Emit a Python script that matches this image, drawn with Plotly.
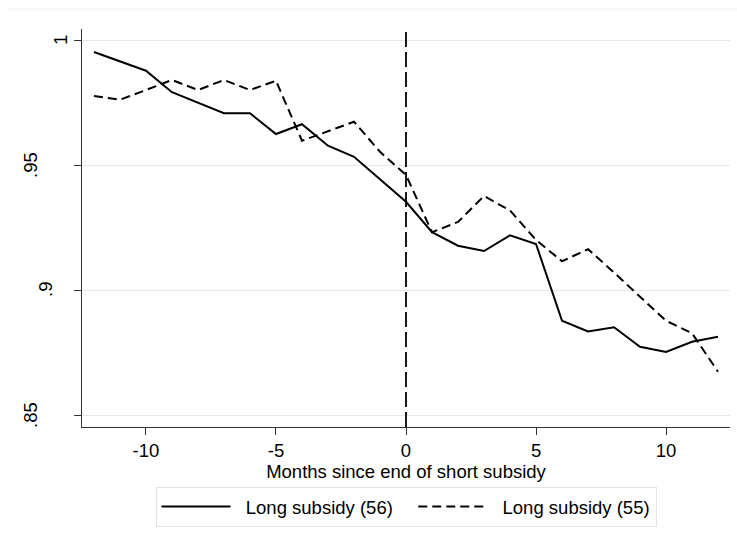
import plotly.graph_objects as go

months = list(range(-12, 13))
long_56 = [0.9952, 0.9915, 0.9877, 0.9791, 0.9749, 0.9707, 0.9707, 0.9624, 0.9663,
           0.9577, 0.9533, 0.9443, 0.9353, 0.9231, 0.9177, 0.9156, 0.9219, 0.9184,
           0.8877, 0.8834, 0.8851, 0.8773, 0.8752, 0.8793, 0.8813]
long_55 = [0.9776, 0.9761, 0.9800, 0.9840, 0.9800, 0.9840, 0.9800, 0.9837, 0.9597,
           0.9636, 0.9673, 0.9553, 0.9460, 0.9231, 0.9272, 0.9376, 0.9318, 0.9200,
           0.9115, 0.9163, 0.9070, 0.8973, 0.8877, 0.8827, 0.8673]

x_tickvals = [-10, -5, 0, 5, 10]
x_ticktext = ["-10", "-5", "0", "5", "10"]
y_tickvals = [0.85, 0.9, 0.95, 1.0]
y_ticktext = [".85", ".9", ".95", "1"]

FONT = "Liberation Sans, Arial, sans-serif"
FS = 18.5
NB = "\u00a0\u00a0"

fig = go.Figure()
fig.add_trace(go.Scatter(x=months, y=long_56, mode="lines",
                         name=NB + "Long subsidy (56)" + "\u00a0\u00a0\u00a0",
                         line=dict(color="black", width=2)))
fig.add_trace(go.Scatter(x=months, y=long_55, mode="lines", name=NB + "Long subsidy (55)",
                         line=dict(color="black", width=2, dash="9px,5px")))

fig.add_vline(x=0, line=dict(color="black", width=1.8, dash="15px,5px"))

# faint outer region border line at top
fig.add_shape(type="line", xref="paper", yref="paper", x0=-0.114, x1=1.02, y0=1.05, y1=1.05,
              line=dict(color="#eeeeee", width=1))

# y tick labels, rotated, placed like Stata (offset grows with label length)
for v, t in zip(y_tickvals, y_ticktext):
    fig.add_annotation(x=0, xref="paper", y=v, yref="y", text=t, showarrow=False,
                       textangle=-90, xanchor="center", yanchor="middle",
                       xshift=-7 - 15 * len(t),
                       font=dict(family=FONT, size=FS, color="black"))

fig.update_layout(
    width=737, height=540,
    margin=dict(l=82, r=7, t=29, b=113),
    paper_bgcolor="white", plot_bgcolor="white",
    font=dict(family=FONT, size=FS, color="black"),
    showlegend=True,
    legend=dict(orientation="h", x=0.5, xanchor="center", y=-0.151, yanchor="top",
                bordercolor="#e3e3e3", borderwidth=1, itemwidth=69,
                font=dict(family=FONT, size=FS, color="black"), tracegroupgap=0,
                traceorder="normal"),
    xaxis=dict(range=[-12.46, 12.46], tickvals=x_tickvals, ticktext=x_ticktext,
               showgrid=False, zeroline=False, showline=True, linecolor="#333333",
               linewidth=1.2, ticks="outside", ticklen=7, tickcolor="#333333", tickwidth=1.2,
               tickfont=dict(family=FONT, size=FS, color="black"),
               title=dict(text="Months since end of short subsidy", standoff=0,
                          font=dict(family=FONT, size=FS, color="black"))),
    yaxis=dict(range=[0.8452, 1.0044], tickvals=y_tickvals, showticklabels=False,
               showgrid=True, gridcolor="#e6e6e6", gridwidth=1.3, zeroline=False,
               showline=True, linecolor="#333333", linewidth=1.2, ticks="outside",
               ticklen=7, tickcolor="#333333", tickwidth=1.2),
)

fig.write_html("out.html")
